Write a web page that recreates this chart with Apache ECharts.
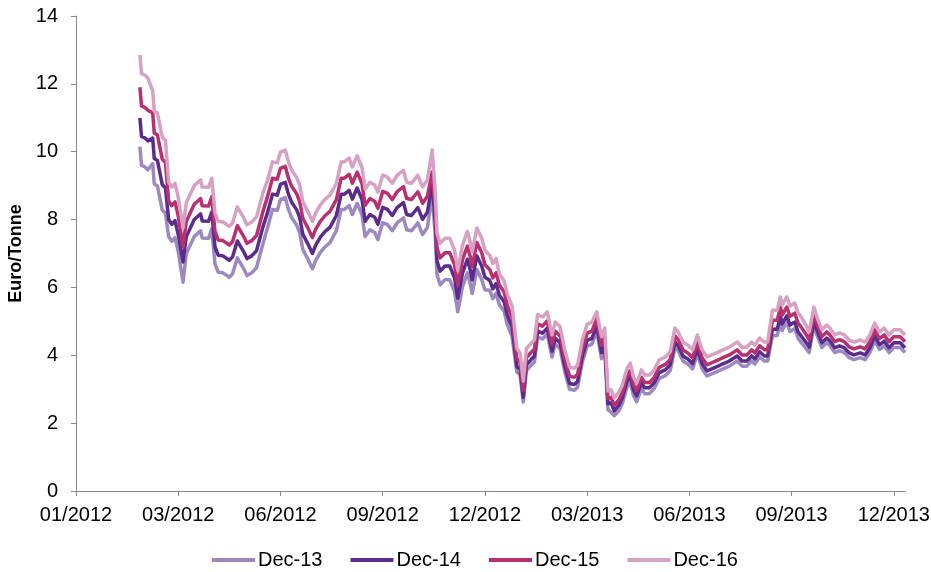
<!DOCTYPE html>
<html>
<head>
<meta charset="utf-8">
<script src="https://cdn.jsdelivr.net/npm/echarts@6/dist/echarts.min.js"></script>
<style>
html,body{margin:0;padding:0;background:#fff;}
#chart{width:931px;height:572px;}
</style>
</head>
<body>
<div id="chart"></div>
<script>
// trading-day index of each sample (axis ticks every 64 trading days)
const days = [40,41,43,45,48,49,51,54,56,58,60,62,64,67,69,73,74,78,79,83,85,87,89,92,96,98,101,105,107,110,113,117,
120,123,126,128,131,133,135,138,140,142,145,148,150,153,156,159,163,166,168,171,173,176,179,181,184,187,189,192,195,198,201,205,207,210,214,217,220,223,
225,226,228,231,234,237,239,242,245,247,248,251,254,256,259,261,263,265,268,270,273,276,278,280,282,285,287,289,292,295,298,300,303,306,309,312,314,317,320,323,326,329,331,
333,335,337,340,342,345,347,349,351,354,356,359,362,365,369,372,375,377,380,383,386,389,392,395,398,401,405,409,414,417,420,423,425,428,431,433,
436,439,441,442,445,447,450,452,454,457,459,462,464,467,470,472,475,478,481,484,487,491,494,497,500,503,506,509,512,516,519];

const dec16 = [12.85,12.3,12.26,12.17,11.8,11.2,11.14,10.43,10.34,9.1,8.96,9.07,8.66,7.75,8.49,8.9,9.0,9.17,8.96,8.95,9.22,8.2,7.95,7.93,7.8,7.9,8.37,8.05,7.85,7.93,8.08,8.78,
9.17,9.7,9.67,9.99,10.05,9.7,9.46,9.25,9.02,8.52,8.25,7.95,8.19,8.43,8.6,8.72,9.07,9.7,9.7,9.81,9.55,9.88,9.55,8.9,9.1,9.02,8.81,9.31,9.25,9.07,9.3,9.45,9.1,9.07,9.3,8.96,9.17,10.05,
8.7,7.6,7.3,7.45,7.45,7.1,6.5,7.25,7.65,7.3,7.04,7.75,7.45,7.1,6.95,6.7,6.85,6.4,6.2,5.8,5.45,4.2,4.07,3.24,4.2,4.36,4.45,5.2,5.13,5.28,4.6,4.98,4.85,4.16,3.65,3.62,3.71,4.45,4.92,4.98,5.28,4.55,4.8,
2.95,2.98,2.74,2.92,3.12,3.62,3.77,3.36,3.18,3.57,3.42,3.42,3.57,3.86,3.95,4.1,4.8,4.69,4.39,4.3,4.16,4.6,4.16,3.95,4.01,4.07,4.16,4.24,4.39,4.24,4.24,4.39,4.3,4.51,4.39,4.39,
5.33,5.33,5.72,5.48,5.72,5.45,5.54,5.25,5.13,4.89,4.69,5.42,5.1,4.75,4.89,4.8,4.6,4.66,4.6,4.45,4.39,4.45,4.39,4.6,4.95,4.69,4.8,4.6,4.75,4.75,4.6];

const dec15 = [11.9,11.35,11.31,11.22,11.15,10.55,10.49,9.78,9.69,8.55,8.41,8.52,8.11,7.2,7.94,8.35,8.45,8.62,8.41,8.4,8.67,7.65,7.4,7.38,7.25,7.35,7.82,7.5,7.3,7.38,7.53,8.23,
8.69,9.22,9.19,9.51,9.57,9.22,8.98,8.77,8.54,8.04,7.77,7.47,7.71,7.95,8.12,8.24,8.59,9.22,9.22,9.33,9.07,9.4,9.07,8.42,8.62,8.54,8.33,8.83,8.77,8.59,8.82,8.97,8.62,8.59,8.82,8.48,8.69,9.4,
8.27,7.17,6.87,7.02,7.02,6.67,6.07,6.82,7.22,6.87,6.61,7.32,7.02,6.67,6.53,6.28,6.43,6.07,5.87,5.47,5.12,3.9,3.8,2.97,3.93,4.09,4.18,4.93,4.86,5.01,4.33,4.71,4.58,3.89,3.38,3.35,3.44,4.18,4.65,4.71,5.08,4.3,4.55,
2.73,2.76,2.52,2.7,2.9,3.4,3.55,3.14,2.96,3.35,3.2,3.2,3.35,3.64,3.73,3.88,4.57,4.46,4.16,4.07,3.93,4.37,3.93,3.72,3.78,3.84,3.93,4.01,4.16,4.01,4.01,4.16,4.07,4.28,4.16,4.16,
5.03,5.03,5.42,5.18,5.42,5.15,5.24,4.95,4.83,4.62,4.45,5.2,4.9,4.55,4.69,4.6,4.4,4.46,4.4,4.25,4.19,4.25,4.19,4.4,4.75,4.49,4.6,4.4,4.55,4.55,4.4];

const dec14 = [11.0,10.45,10.41,10.32,10.4,9.8,9.74,9.03,8.94,8.0,7.86,7.97,7.56,6.75,7.49,7.9,8.0,8.17,7.96,7.95,8.22,7.2,6.95,6.93,6.8,6.9,7.37,7.05,6.85,6.93,7.08,7.78,
8.22,8.75,8.72,9.04,9.1,8.75,8.51,8.3,8.07,7.57,7.3,7.0,7.24,7.48,7.65,7.77,8.12,8.75,8.75,8.86,8.6,8.93,8.6,7.95,8.15,8.07,7.86,8.36,8.3,8.12,8.35,8.5,8.15,8.12,8.35,8.01,8.22,9.07,
7.88,6.78,6.48,6.63,6.63,6.28,5.68,6.43,6.83,6.48,6.22,6.93,6.63,6.3,6.21,5.96,6.11,5.78,5.58,5.18,4.83,3.66,3.59,2.76,3.72,3.88,3.97,4.72,4.65,4.8,4.12,4.5,4.37,3.68,3.17,3.14,3.23,3.97,4.44,4.5,4.87,4.08,4.35,
2.57,2.6,2.36,2.54,2.74,3.24,3.39,2.98,2.8,3.19,3.04,3.04,3.19,3.48,3.57,3.72,4.39,4.28,3.98,3.89,3.75,4.19,3.75,3.54,3.6,3.66,3.75,3.83,3.98,3.83,3.83,3.98,3.89,4.1,3.98,3.98,
4.77,4.77,5.16,4.92,5.16,4.89,4.98,4.69,4.57,4.38,4.24,5.02,4.72,4.37,4.51,4.42,4.22,4.28,4.22,4.07,4.01,4.07,4.01,4.22,4.57,4.31,4.42,4.22,4.37,4.37,4.22];

const dec13 = [10.15,9.6,9.56,9.47,9.65,9.05,8.99,8.28,8.19,7.5,7.36,7.47,7.06,6.15,6.99,7.4,7.5,7.67,7.46,7.45,7.72,6.7,6.45,6.43,6.3,6.4,6.87,6.55,6.35,6.43,6.58,7.28,
7.77,8.3,8.27,8.59,8.65,8.3,8.06,7.85,7.62,7.12,6.85,6.55,6.79,7.03,7.2,7.32,7.67,8.3,8.3,8.41,8.15,8.48,8.15,7.5,7.7,7.62,7.41,7.91,7.85,7.67,7.9,8.05,7.7,7.67,7.9,7.56,7.77,8.72,
7.48,6.38,6.08,6.23,6.23,5.88,5.28,6.03,6.43,6.08,5.82,6.53,6.23,5.93,5.92,5.67,5.82,5.5,5.3,4.9,4.55,3.5,3.42,2.62,3.55,3.71,3.8,4.55,4.48,4.63,3.95,4.33,4.2,3.51,3.0,2.97,3.06,3.8,4.27,4.33,4.72,3.9,4.18,
2.4,2.32,2.22,2.37,2.57,3.07,3.22,2.81,2.63,3.02,2.87,2.87,3.02,3.31,3.4,3.55,4.24,4.13,3.83,3.74,3.6,4.04,3.6,3.39,3.45,3.51,3.6,3.68,3.83,3.68,3.68,3.83,3.74,3.95,3.83,3.83,
4.58,4.58,4.97,4.73,4.97,4.7,4.79,4.5,4.38,4.2,4.08,4.88,4.58,4.23,4.37,4.28,4.08,4.14,4.08,3.93,3.87,3.93,3.87,4.08,4.43,4.17,4.28,4.08,4.23,4.23,4.08];

const seriesNames = ['Dec-13','Dec-14','Dec-15','Dec-16'];
const seriesColors = ['#9B89BF','#5B2C8C','#B8306F','#D6A1C2'];
const tickLabels = ['01/2012','03/2012','06/2012','09/2012','12/2012','03/2013','06/2013','09/2013','12/2013'];
const TICK_STEP = 64;
const X_MAX = 519;

const tickValues = tickLabels.map((_, i) => i * TICK_STEP);
const allSeries = [dec13, dec14, dec15, dec16];

const chart = echarts.init(document.getElementById('chart'), null, {renderer: 'canvas'});
const axisColor = '#868686';
const font = 'Liberation Sans, Arial, sans-serif';

chart.setOption({
  animation: false,
  backgroundColor: '#fff',
  textStyle: {fontFamily: font},
  grid: {left: 76, top: 16, right: 26, bottom: 81, containLabel: false, outerBoundsMode: 'none'},
  legend: {
    data: seriesNames,
    left: 207,
    top: 545,
    itemWidth: 43,
    itemHeight: 4,
    itemGap: 28,
    icon: 'rect',
    textStyle: {fontSize: 20, color: '#000', fontFamily: font, padding: [0,0,0,-2]}
  },
  xAxis: {
    type: 'value',
    min: 0,
    max: X_MAX,
    interval: TICK_STEP,
    splitLine: {show: false},
    axisLine: {lineStyle: {color: axisColor, width: 1}},
    axisTick: {show: true, length: 5, lineStyle: {color: axisColor}, customValues: tickValues},
    axisLabel: {
      customValues: tickValues,
      margin: 14,
      fontSize: 20,
      color: '#000',
      fontFamily: font,
      formatter: function (v) {
        const i = Math.round(v / TICK_STEP);
        return (Math.abs(v - i * TICK_STEP) < 1e-6 && tickLabels[i]) ? tickLabels[i] : '';
      }
    }
  },
  yAxis: {
    type: 'value',
    min: 0,
    max: 14,
    interval: 2,
    name: 'Euro/Tonne',
    nameLocation: 'middle',
    nameGap: 49,
    nameRotate: 90,
    nameTextStyle: {fontSize: 18, fontWeight: 'bold', color: '#000', fontFamily: font},
    splitLine: {show: false},
    axisLine: {show: true, lineStyle: {color: axisColor, width: 1}},
    axisTick: {show: true, length: 5, lineStyle: {color: axisColor}},
    axisLabel: {fontSize: 20, color: '#000', margin: 18, fontFamily: font}
  },
  series: seriesNames.map((name, k) => ({
    name: name,
    type: 'line',
    showSymbol: false,
    symbol: 'none',
    color: seriesColors[k],
    lineStyle: {width: 3.5, color: seriesColors[k], join: 'round'},
    data: days.map((d, i) => [d, allSeries[k][i]])
  }))
});
</script>
</body>
</html>
